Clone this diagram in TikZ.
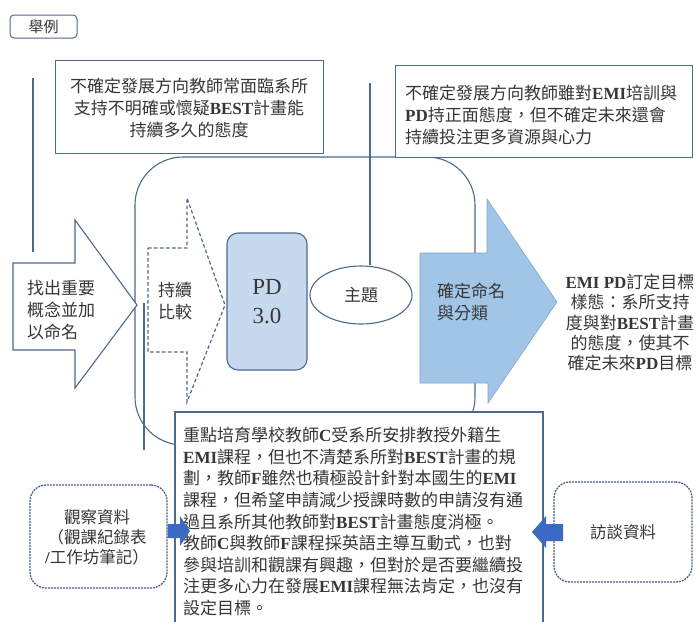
\documentclass[tikz,border=0pt]{standalone}
\usepackage{fontspec}
\setmainfont{Noto Sans CJK TC}
\newfontfamily\latf{Liberation Serif}
\newcommand{\lt}[1]{{\latf\bfseries #1}}
\usetikzlibrary{shapes.geometric}
\definecolor{edge}{RGB}{79,104,142}
\definecolor{txtc}{RGB}{55,55,55}
\definecolor{pdfill}{RGB}{199,217,239}
\definecolor{bigfill}{RGB}{160,197,231}
\definecolor{bigedge}{RGB}{130,165,205}
\definecolor{smallfill}{RGB}{58,106,196}
\definecolor{dashedge}{RGB}{75,95,140}
\begin{document}
\begin{tikzpicture}[x=1pt,y=-1pt,line join=miter]
\tikzset{
 ln/.style={draw=edge, line width=1.1pt},
 txt/.style={text=txtc, inner sep=0pt, font=\fontsize{17}{22}\selectfont},
 dbox/.style={draw=dashedge, line width=1.3pt, dash pattern=on 2pt off 1pt, rounded corners=16pt, fill=white},
}
\useasboundingbox (0,0) rectangle (700,621);
\fill[white] (0,0) rectangle (700,621);

% big rounded frame
\draw[ln, rounded corners=48pt] (135,157) rectangle (475,445);

% vertical lines
\coordinate (l1a) at (33,78); \coordinate (l1b) at (33,252);
\draw[ln] (l1a) -- (l1b);
\coordinate (l3a) at (144,303); \coordinate (l3b) at (144,450);
\draw[ln] (l3a) -- (l3b);

% top boxes
\node[ln, fill=white, minimum width=268pt, minimum height=93pt, anchor=north west, inner sep=0pt] (tl) at (55,60) {};
\node[txt, align=center] (tlt) at (189,108.5) {不確定發展方向教師常面臨系所\\支持不明確或懷疑\lt{BEST}計畫能\\持續多久的態度};

\node[ln, fill=white, minimum width=297pt, minimum height=92pt, anchor=north west, inner sep=0pt] (tr) at (395,65) {};
\node[txt, align=left, anchor=west] (trt) at (405,115) {不確定發展方向教師雖對\lt{EMI}培訓與\\\lt{PD}持正面態度，但不確定未來還會\\持續投注更多資源與心力};

% example label
\node[draw=edge, line width=1pt, rounded corners=4pt, minimum width=67pt, minimum height=23pt, inner sep=0pt, text=txtc, font=\fontsize{15}{18}\selectfont] (ex) at (43.5,26.5) {舉例};

% ellipse theme
\coordinate (l2a) at (370,83);
\node[ln, ellipse, fill=white, minimum width=102pt, minimum height=58pt, inner sep=0pt, txt] (theme) at (361,295) {主題};
\draw[ln] (l2a) -- (l2a |- theme.north);

% PD box
\node[ln, fill=pdfill, rounded corners=11pt, minimum width=80pt, minimum height=137pt, inner sep=0pt] (pd) at (267,301.5) {};
\node[text=txtc, inner sep=0pt, align=center, font=\latf\fontsize{23}{29}\selectfont] (pdt) at (267,302) {PD\\3.0};

% left white arrow
\draw[ln, fill=white] (13,263) -- (75,263) -- (75,220) -- (137,305) -- (75,388) -- (75,350) -- (13,350) -- cycle;
\node[txt, align=left, anchor=west] (la) at (27,310) {找出重要\\概念並加\\以命名};

% dashed arrow
\draw[draw=edge, line width=1.2pt, dash pattern=on 3.5pt off 2.5pt] (148,248) -- (187,248) -- (187,198) -- (225,305) -- (187,402) -- (187,352) -- (148,352) -- cycle;
\node[txt, align=left, anchor=west] (da) at (158,301) {持續\\比較};

% blue arrow
\draw[draw=bigedge, line width=0.6pt, fill=bigfill] (420,253) -- (487,253) -- (487,199) -- (557,302) -- (488,403) -- (488,383) -- (420,383) -- cycle;
\node[txt, align=left, anchor=west] (ba) at (437,302) {確定命名\\與分類};

% result text
\node[txt, align=center, font=\fontsize{17}{20.3}\selectfont] (res) at (630,322.5) {\lt{EMI PD}訂定目標\\樣態：系所支持\\度與對\lt{BEST}計畫\\的態度，使其不\\確定未來\lt{PD}目標};

% bottom box (open at the bottom)
\filldraw[ln, fill=white] (175,625) -- (175,412) -- (543,412) -- (543,625);
\node[txt, align=left, anchor=west, font=\fontsize{17}{21.6}\selectfont] (bt) at (183,521.5) {重點培育學校教師\lt{C}受系所安排教授外籍生\\\lt{EMI}課程，但也不清楚系所對\lt{BEST}計畫的規\\劃，教師\lt{F}雖然也積極設計針對本國生的\lt{EMI}\\課程，但希望申請減少授課時數的申請沒有通\\過且系所其他教師對\lt{BEST}計畫態度消極。\\教師\lt{C}與教師\lt{F}課程採英語主導互動式，也對\\參與培訓和觀課有興趣，但對於是否要繼續投\\注更多心力在發展\lt{EMI}課程無法肯定，也沒有\\設定目標。};

% data boxes
\node[dbox, minimum width=137pt, minimum height=103pt, inner sep=0pt] (obs) at (98.5,536.5) {};
\node[txt, align=center, font=\fontsize{16.5}{20}\selectfont] (obst) at (97,537) {觀察資料\\（觀課紀錄表\\\lt{/}工作坊筆記）};
\node[dbox, minimum width=138pt, minimum height=100pt, inner sep=0pt] (itv) at (623,532) {};
\node[txt, font=\fontsize{16.5}{20}\selectfont] (itvt) at (623,532) {訪談資料};

% small arrows
\fill[smallfill] (obs.east |- 0,524) -- (180,524) -- (180,516) -- (190,531) -- (180,546) -- (180,538) -- (obs.east |- 0,538) -- cycle;
\fill[smallfill] (563,524) -- (546,524) -- (546,516) -- (532,532) -- (546,548) -- (546,541) -- (563,541) -- cycle;
\end{tikzpicture}
\end{document}
